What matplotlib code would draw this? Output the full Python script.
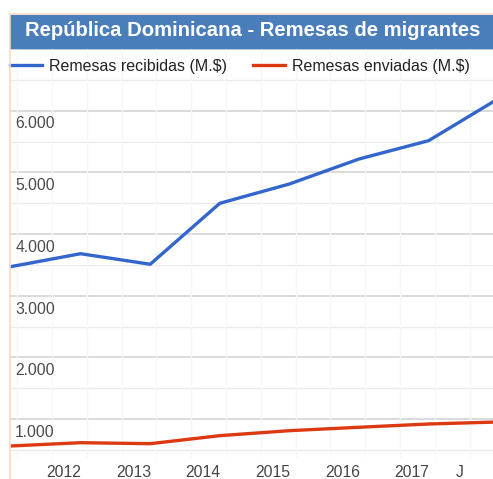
import matplotlib.pyplot as plt
from matplotlib.patches import Rectangle

years = [2011, 2012, 2013, 2014, 2015, 2016, 2017, 2018]
recibidas = [3473, 3682, 3511, 4499, 4812, 5217, 5514, 6194]
enviadas = [566, 619, 603, 733, 814, 869, 922, 955]
labels = ['Remesas recibidas (M.$)', 'Remesas enviadas (M.$)']
title = 'República Dominicana - Remesas de migrantes'
xtick_pos = [2011.76, 2012.76, 2013.76, 2014.76, 2015.76, 2016.76, 2017.45]
xtick_lab = ['2012', '2013', '2014', '2015', '2016', '2017', 'J']
ytick_val = [1000, 2000, 3000, 4000, 5000, 6000]
ytick_lab = ['1.000', '2.000', '3.000', '4.000', '5.000', '6.000']

plt.rcParams['font.family'] = ['Liberation Sans', 'DejaVu Sans']

W, H = 493, 479
fig = plt.figure(figsize=(W / 100, H / 100), dpi=100)

# zona del grafico en pixeles
left, right, top, bottom = 10, 493, 48, 458
ax = fig.add_axes([left / W, 1 - bottom / H, (right - left) / W, (bottom - top) / H])
ax.set_xlim(2010.986, 2017.925)
ax.set_ylim(371, 7016)

# rejilla
for v in range(500, 7001, 500):
    if v % 1000 == 0:
        ax.axhline(v, color='#d4d4d4', lw=1.2, zorder=1)
    else:
        ax.axhline(v, color='#ebebeb', lw=1, zorder=1)
for y in range(2011, 2018):
    for off in (0.09, 0.59):
        ax.axvline(y + off, color='#f7f7f7', lw=0.9, zorder=1)

l1, = ax.plot(years, recibidas, color='#3366cc', lw=2.4, zorder=3, solid_joinstyle='round')
l2, = ax.plot(years, enviadas, color='#dc3912', lw=2.4, zorder=3, solid_joinstyle='round')

# etiquetas del eje y dentro del grafico
for v, t in zip(ytick_val, ytick_lab):
    ax.text(2011.06, v - 215, t, fontsize=11.3, color='#4a4a4a', ha='left', va='center', zorder=4)

ax.set_xticks(xtick_pos)
ax.set_xticklabels(xtick_lab, fontsize=11.3, color='#444444')
ax.tick_params(axis='x', length=0, pad=5)
ax.set_yticks([])
for s in ax.spines.values():
    s.set_visible(False)

# leyenda
leg = ax.legend([l1, l2], labels, loc='center left', bbox_to_anchor=(0.0, 1 - 18 / 410), ncol=2,
                frameon=False, fontsize=11.5, handlelength=2.0, handletextpad=0.45,
                columnspacing=1.6, borderaxespad=0.0, borderpad=0.0)
for t in leg.get_texts():
    t.set_color('#222222')

# barra de titulo y borde
fig.add_artist(Rectangle((left / W, 1 - 47.5 / H), (W - left) / W, 32.5 / H,
                         transform=fig.transFigure, color='#4a7ebb', zorder=5))
fig.add_artist(plt.Line2D([9.5 / W, 9.5 / W], [0, 1 - 14 / H], transform=fig.transFigure,
                          color='#f5dcc4', lw=1.2, zorder=6))
fig.add_artist(plt.Line2D([9.5 / W, 1], [1 - 14 / H, 1 - 14 / H], transform=fig.transFigure,
                          color='#f5dcc4', lw=1.2, zorder=6))
fig.text(253 / W, 1 - 31 / H, title, color='white', fontsize=14.6, fontweight='bold',
         ha='center', va='center', zorder=7)

fig.savefig('out.png', dpi=100)
